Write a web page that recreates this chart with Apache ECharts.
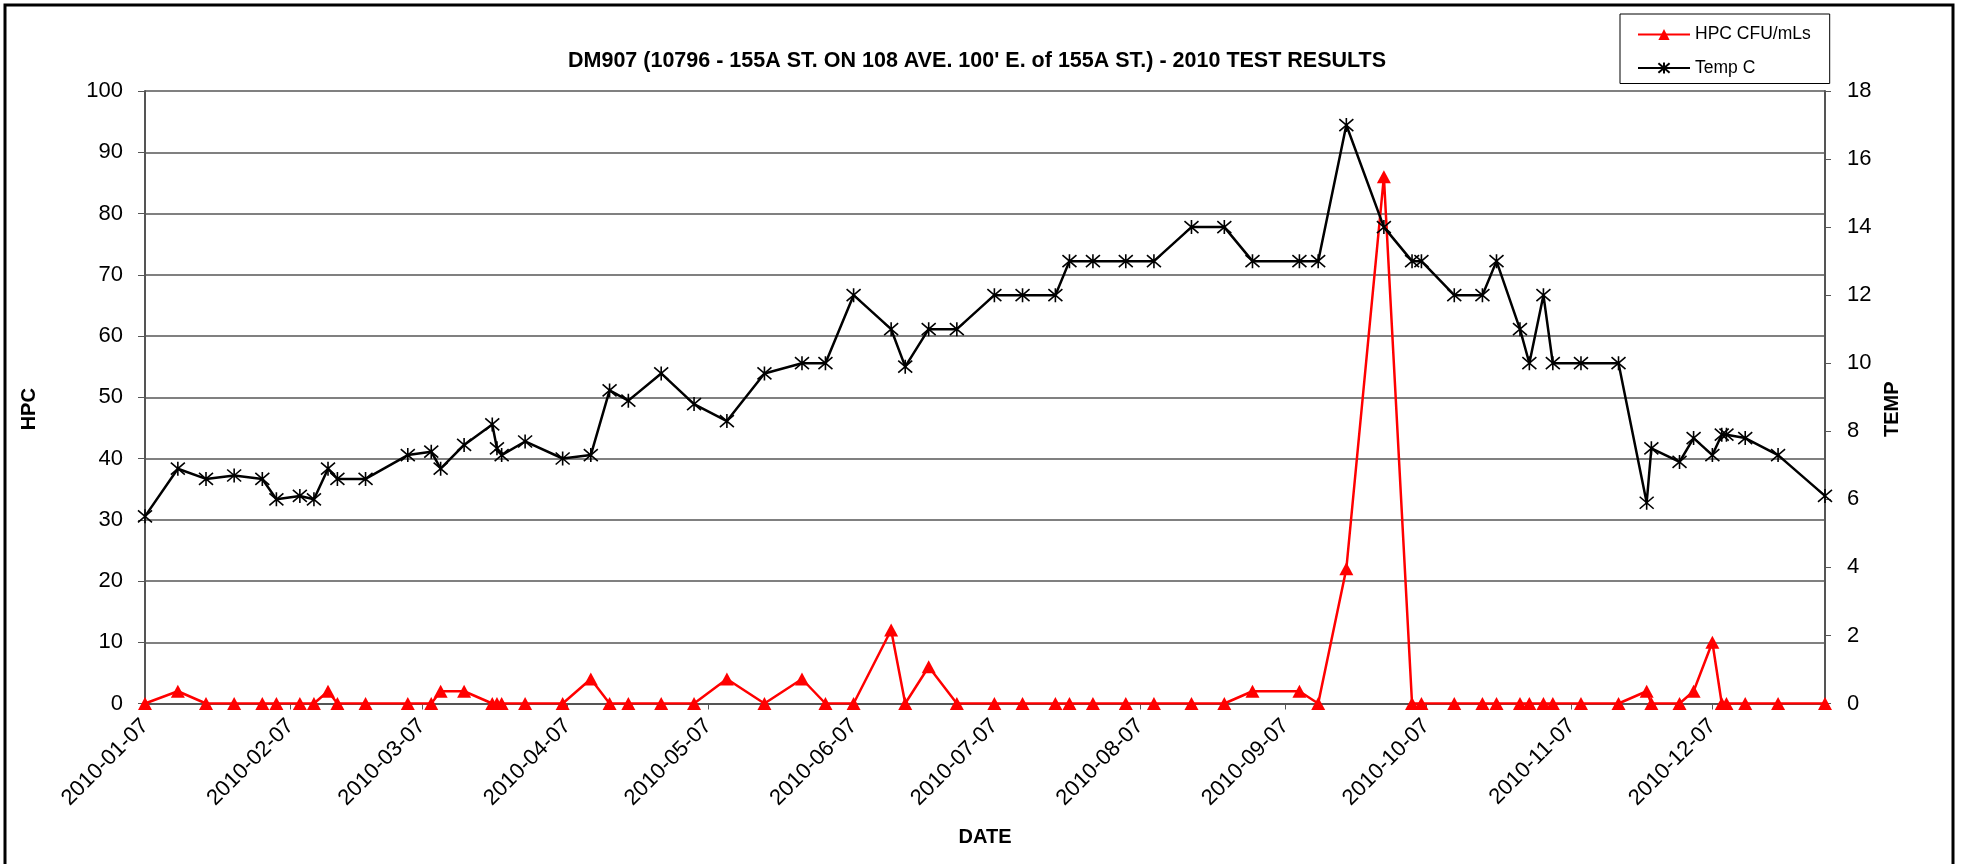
<!DOCTYPE html>
<html>
<head>
<meta charset="utf-8">
<script src="https://cdn.jsdelivr.net/npm/echarts@6/dist/echarts.min.js"></script>
<style>
html,body{margin:0;padding:0;background:#fff;}
#chart{width:1961px;height:864px;}
</style>
</head>
<body>
<div id="chart"></div>
<script>
// ---- data ----
const dates = [
'2010-01-07','2010-01-14','2010-01-20','2010-01-26','2010-02-01','2010-02-04','2010-02-09','2010-02-12','2010-02-15','2010-02-17','2010-02-23',
'2010-03-04','2010-03-09','2010-03-11','2010-03-16','2010-03-22','2010-03-23','2010-03-24','2010-03-29',
'2010-04-06','2010-04-12','2010-04-16','2010-04-20','2010-04-27',
'2010-05-04','2010-05-11','2010-05-19','2010-05-27',
'2010-06-01','2010-06-07','2010-06-15','2010-06-18','2010-06-23','2010-06-29',
'2010-07-07','2010-07-13','2010-07-20','2010-07-23','2010-07-28',
'2010-08-04','2010-08-10','2010-08-18','2010-08-25','2010-08-31',
'2010-09-10','2010-09-14','2010-09-20','2010-09-28',
'2010-10-04','2010-10-06','2010-10-13','2010-10-19','2010-10-22','2010-10-27','2010-10-29',
'2010-11-01','2010-11-03','2010-11-09','2010-11-17','2010-11-23','2010-11-24','2010-11-30',
'2010-12-03','2010-12-07','2010-12-09','2010-12-10','2010-12-14','2010-12-21','2010-12-31'
];
const hpcValues = [
0,2,0,0,0,0,0,0,2,0,0,
0,0,2,2,0,0,0,0,
0,4,0,0,0,
0,4,0,4,
0,0,12,0,6,0,
0,0,0,0,0,
0,0,0,0,2,
2,0,22,86,
0,0,0,0,0,0,0,
0,0,0,0,2,0,0,
2,10,0,0,0,0,0
];
const tempValues = [
5.5,6.9,6.6,6.7,6.6,6.0,6.1,6.0,6.9,6.6,6.6,
7.3,7.4,6.9,7.6,8.2,7.5,7.3,7.7,
7.2,7.3,9.2,8.9,9.7,
8.8,8.3,9.7,10.0,
10.0,12.0,11.0,9.9,11.0,11.0,
12.0,12.0,12.0,13.0,13.0,
13.0,13.0,14.0,14.0,13.0,
13.0,13.0,17.0,14.0,
13.0,13.0,12.0,12.0,13.0,11.0,10.0,
12.0,10.0,10.0,10.0,5.9,7.5,7.1,
7.8,7.3,7.9,7.9,7.8,7.3,6.1
];
const dateTicks = ['2010-01-07','2010-02-07','2010-03-07','2010-04-07','2010-05-07','2010-06-07',
'2010-07-07','2010-08-07','2010-09-07','2010-10-07','2010-11-07','2010-12-07'];
const axisMin = '2010-01-07';
const axisMax = '2010-12-31';
const titleText = "DM907 (10796 - 155A ST. ON 108 AVE. 100' E. of 155A ST.) - 2010 TEST RESULTS";
const seriesNames = ['HPC CFU/mLs', 'Temp C'];

// ---- helpers ----
function ts(s){ const p = s.split('-').map(Number); return new Date(p[0], p[1]-1, p[2]).getTime(); }
function pad(n){ return (n<10?'0':'')+n; }
function fmt(v){ const d = new Date(v); return d.getFullYear()+'-'+pad(d.getMonth()+1)+'-'+pad(d.getDate()); }

const FONT = "'Liberation Sans', Arial, sans-serif";
const starPath = 'path://M0,0L12,12M12,0L0,12M6,-1L6,13';

const chart = echarts.init(document.getElementById('chart'), null, {renderer:'canvas'});
chart.setOption({
  animation: false,
  backgroundColor: '#fff',
  textStyle: {fontFamily: FONT},
  title: {
    text: titleText,
    left: 563, top: 45,
    textStyle: {fontFamily: FONT, fontSize: 21.5, fontWeight: 'bold', color: '#000'}
  },
  legend: {
    orient: 'vertical',
    left: 1620, top: 14,
    padding: [11.5, 19, 6.5, 17],
    itemWidth: 52, itemHeight: 14, itemGap: 15.5,
    borderColor: '#000', borderWidth: 1,
    backgroundColor: '#fff',
    textStyle: {fontFamily: FONT, fontSize: 17.5, color: '#000'},
    data: seriesNames
  },
  graphic: [{
    type: 'rect', silent: true, z: -1,
    shape: {x: 5, y: 5, width: 1948, height: 900},
    style: {fill: 'none', stroke: '#000', lineWidth: 3}
  }],
  grid: {left: 145, right: 136, top: 91, bottom: 160.5, containLabel: false},
  xAxis: {
    type: 'value',
    min: ts(axisMin), max: ts(axisMax),
    name: 'DATE', nameLocation: 'middle', nameGap: 124,
    nameTextStyle: {fontFamily: FONT, fontSize: 20, fontWeight: 'bold', color: '#000'},
    axisLine: {show: true, onZero: false, lineStyle: {color: '#555', width: 2}},
    axisTick: {show: true, length: 6, lineStyle: {color: '#555', width: 1}, customValues: dateTicks.map(ts)},
    axisLabel: {
      rotate: 45, margin: 19, fontSize: 22, color: '#000', fontFamily: FONT,
      customValues: dateTicks.map(ts), formatter: function(v){ return fmt(v); }
    },
    splitLine: {show: false}
  },
  yAxis: [{
    type: 'value', min: 0, max: 100, interval: 10, position: 'left',
    name: 'HPC', nameLocation: 'middle', nameGap: 106, nameRotate: 90,
    nameTextStyle: {fontFamily: FONT, fontSize: 20, fontWeight: 'bold', color: '#000', padding: [0, 24, 0, 0]},
    axisLine: {show: true, lineStyle: {color: '#555', width: 2}},
    axisTick: {show: true, length: 7, lineStyle: {color: '#555', width: 1}},
    axisLabel: {fontSize: 22, color: '#000', margin: 22, fontFamily: FONT},
    splitLine: {show: true, lineStyle: {color: '#808080', width: 2}}
  }, {
    type: 'value', min: 0, max: 18, interval: 2, position: 'right',
    name: 'TEMP', nameLocation: 'middle', nameGap: 54, nameRotate: 90,
    nameTextStyle: {fontFamily: FONT, fontSize: 20, fontWeight: 'bold', color: '#000', padding: [0, 24, 0, 0]},
    axisLine: {show: true, lineStyle: {color: '#555', width: 2}},
    axisTick: {show: true, length: 6, lineStyle: {color: '#555', width: 1}},
    axisLabel: {fontSize: 22, color: '#000', margin: 22, fontFamily: FONT},
    splitLine: {show: false}
  }],
  series: [{
    name: seriesNames[0], type: 'line', yAxisIndex: 0,
    data: dates.map((d,i)=>[ts(d), hpcValues[i]]),
    symbol: 'triangle', symbolSize: [14, 13],
    lineStyle: {color: '#ff0000', width: 2.5},
    itemStyle: {color: '#ff0000'},
    z: 2
  }, {
    name: seriesNames[1], type: 'line', yAxisIndex: 1,
    data: dates.map((d,i)=>[ts(d), tempValues[i]]),
    symbol: starPath, symbolSize: 14,
    lineStyle: {color: '#000', width: 2.5},
    itemStyle: {color: '#000', borderColor: '#000', borderWidth: 1.6},
    z: 3
  }]
});
</script>
</body>
</html>
